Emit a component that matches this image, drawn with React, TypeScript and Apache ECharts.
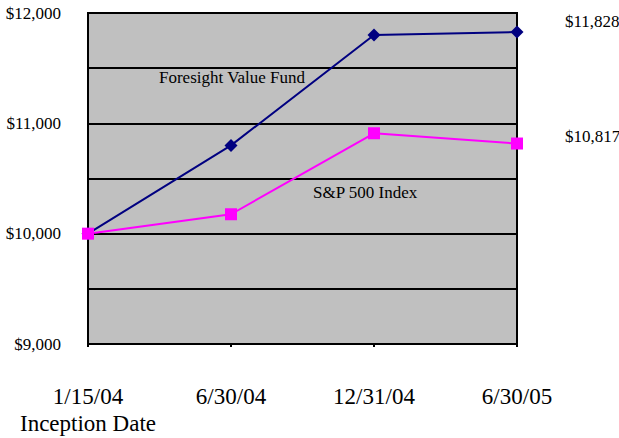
import React, { useEffect, useRef } from "react";
import * as echarts from "echarts";

const categories = ["1/15/04", "6/30/04", "12/31/04", "6/30/05"];
const fundValues = [10000, 10800, 11800, 11828];
const spValues = [10000, 10176, 10910, 10817];
const yMin = 9000;
const yMax = 12000;
const yStep = 500;
const fundName = "Foresight Value Fund";
const spName = "S&P 500 Index";
const inceptionNote = "Inception Date";

const FONT = "'Liberation Serif', 'Times New Roman', serif";

function money(v: number) {
  return "$" + Math.round(v).toLocaleString("en-US");
}

export default function App() {
  const ref = useRef<HTMLDivElement>(null);
  useEffect(() => {
    if (!ref.current) return;
    const chart = echarts.init(ref.current, undefined, { renderer: "svg" });
    chart.setOption({
      animation: false,
      backgroundColor: "#ffffff",
      grid: {
        left: 88,
        right: 102,
        top: 13,
        bottom: 94,
        show: true,
        backgroundColor: "#c0c0c0",
        borderColor: "#000000",
        borderWidth: 2,
      },
      xAxis: {
        type: "category",
        data: categories,
        boundaryGap: false,
        axisLine: { show: true, lineStyle: { color: "#000", width: 2 } },
        axisTick: { show: true, length: 3, lineStyle: { color: "#000", width: 2 } },
        axisLabel: {
          interval: 0,
          hideOverlap: false,
          margin: 39,
          color: "#000",
          fontFamily: FONT,
          fontSize: 23,
          lineHeight: 27,
          formatter: (v: string, i: number) => (i === 0 ? v + "\n" + inceptionNote : v),
        },
        splitLine: { show: false },
      },
      yAxis: {
        type: "value",
        min: yMin,
        max: yMax,
        interval: yStep,
        axisLine: { show: true, lineStyle: { color: "#000", width: 2 } },
        axisTick: { show: false },
        axisLabel: {
          margin: 27,
          color: "#000",
          fontFamily: FONT,
          fontSize: 17,
          formatter: (v: number) => (v % 1000 === 0 ? money(v) : ""),
        },
        splitLine: { show: true, lineStyle: { color: "#000", width: 2 } },
      },
      series: [
        {
          name: fundName,
          type: "line",
          data: fundValues,
          symbol: "diamond",
          symbolSize: 13,
          lineStyle: { color: "#000080", width: 2 },
          itemStyle: { color: "#000080" },
          endLabel: {
            show: true,
            formatter: (p: any) => money(p.value),
            color: "#000",
            fontFamily: FONT,
            fontSize: 17,
            offset: [40, -10],
          },
        },
        {
          name: spName,
          type: "line",
          data: spValues,
          symbol: "rect",
          symbolSize: 12,
          lineStyle: { color: "#ff00ff", width: 2 },
          itemStyle: { color: "#ff00ff" },
          endLabel: {
            show: true,
            formatter: (p: any) => money(p.value),
            color: "#000",
            fontFamily: FONT,
            fontSize: 17,
            offset: [40, -7],
          },
        },
      ],
      graphic: [
        {
          type: "text",
          left: 159,
          top: 69,
          style: { text: fundName, fill: "#000", font: `17px ${FONT}` },
        },
        {
          type: "text",
          left: 313,
          top: 184,
          style: { text: spName, fill: "#000", font: `17px ${FONT}` },
        },
      ],
    });
    return () => chart.dispose();
  }, []);
  return (
    <div
      ref={ref}
      style={{ position: "absolute", left: 0, top: 0, width: 619, height: 438 }}
    />
  );
}
